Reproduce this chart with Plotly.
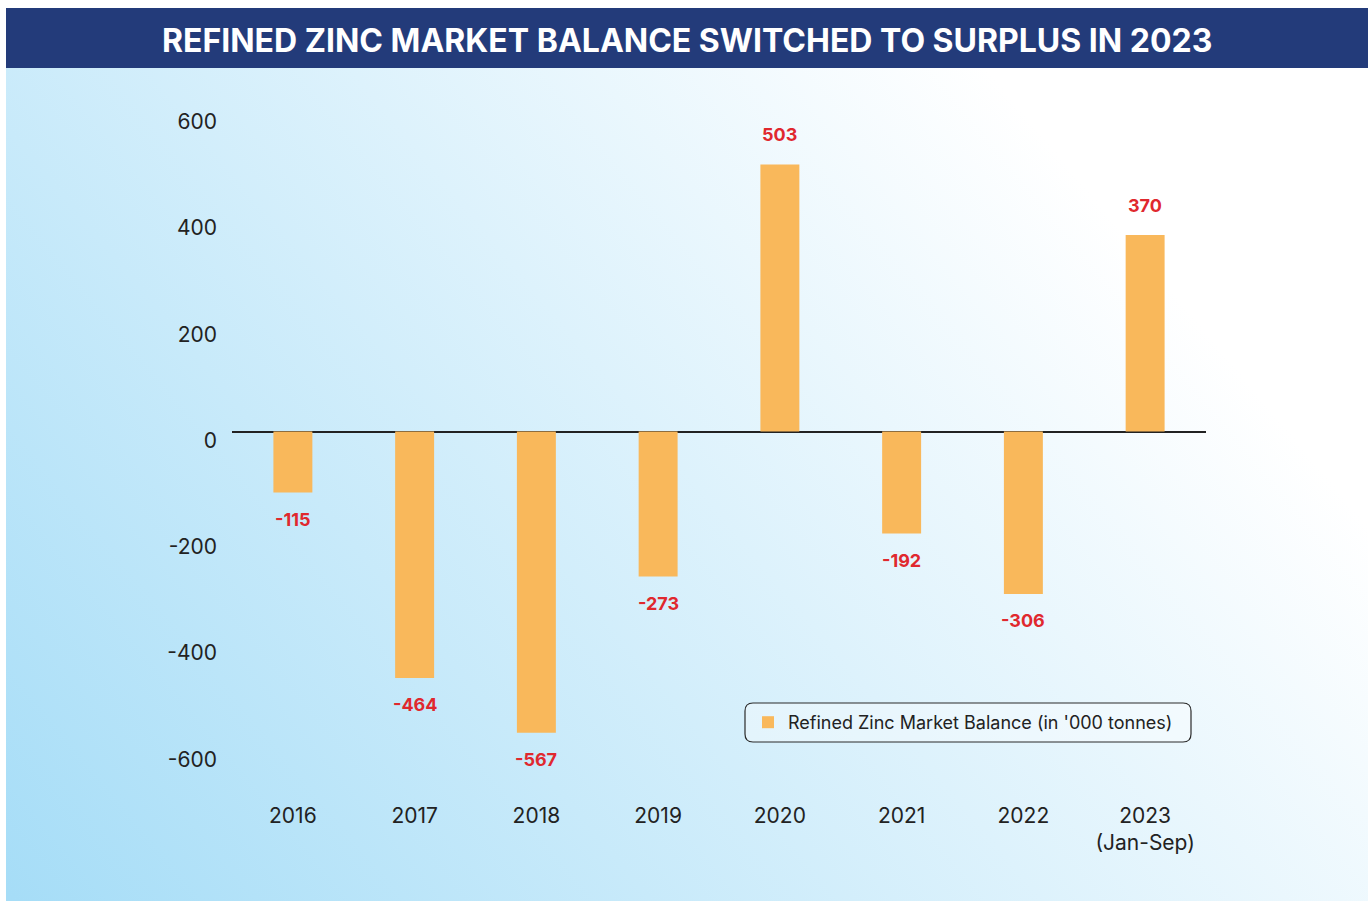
import base64

import plotly.graph_objects as go

years = ["2016", "2017", "2018", "2019", "2020", "2021", "2022", "2023<br>(Jan-Sep)"]
balance = [-115, -464, -567, -273, 503, -192, -306, 370]
y_ticks = [-600, -400, -200, 0, 200, 400, 600]
series_name = "Refined Zinc Market Balance (in '000 tonnes)"
title = "REFINED ZINC MARKET BALANCE SWITCHED TO SURPLUS IN 2023"

W, H = 1370, 901
L, R, T, B = 232, 164, 89, 111
PW, PH = W - L - R, H - T - B


def px(x):
    return (x - L) / PW


def py(y):
    return (H - B - y) / PH


# diagonal wash: blue at bottom-left fading to white towards the top-right
svg = (
    '<svg xmlns="http://www.w3.org/2000/svg" width="1362" height="893" '
    'preserveAspectRatio="none" viewBox="0 0 1362 893">'
    '<defs><linearGradient id="g" gradientUnits="userSpaceOnUse" '
    'x1="0" y1="882" x2="983" y2="63">'
    '<stop offset="0" stop-color="#a6ddf7"/>'
    '<stop offset="1" stop-color="#ffffff"/>'
    '</linearGradient></defs>'
    '<rect width="1362" height="893" fill="url(#g)"/></svg>'
)
bg_src = "data:image/svg+xml;base64," + base64.b64encode(svg.encode()).decode()

fig = go.Figure()
fig.add_trace(go.Bar(
    x=years, y=balance, name=series_name,
    marker=dict(color="#f9b85b", line=dict(width=0)),
    width=0.32, showlegend=True,
))

for i, v in enumerate(balance):
    fig.add_annotation(
        x=i, y=v, text=f"<b>{v}</b>", showarrow=False,
        yanchor="bottom" if v > 0 else "top",
        yshift=17 if v > 0 else -14,
        font=dict(family="Inter", size=18, color="#e0282e"),
    )

fig.add_annotation(
    x=px(687), y=py(40), xref="paper", yref="paper", text=f"<b>{title}</b>",
    showarrow=False, xanchor="center", yanchor="middle",
    font=dict(family="Inter", size=32, color="white"),
)

# rounded legend frame
x0, x1, y0, y1, r = 745, 1191, 703, 742, 8
path = (
    f"M {px(x0 + r)},{py(y0)} L {px(x1 - r)},{py(y0)} "
    f"Q {px(x1)},{py(y0)} {px(x1)},{py(y0 + r)} L {px(x1)},{py(y1 - r)} "
    f"Q {px(x1)},{py(y1)} {px(x1 - r)},{py(y1)} L {px(x0 + r)},{py(y1)} "
    f"Q {px(x0)},{py(y1)} {px(x0)},{py(y1 - r)} L {px(x0)},{py(y0 + r)} "
    f"Q {px(x0)},{py(y0)} {px(x0 + r)},{py(y0)} Z"
)
fig.add_shape(type="path", path=path, xref="paper", yref="paper",
              line=dict(color="#2a2a2a", width=1.2),
              fillcolor="rgba(255,255,255,0.35)", layer="below")

fig.add_shape(type="rect", xref="paper", yref="paper",
              x0=px(6), x1=px(1368), y0=py(68), y1=py(8),
              fillcolor="#233b7a", line=dict(width=0), layer="below")

fig.update_layout(
    width=W, height=H,
    margin=dict(l=L, r=R, t=T, b=B),
    paper_bgcolor="white", plot_bgcolor="rgba(0,0,0,0)",
    font=dict(family="Inter", color="#222222"),
    images=[dict(source=bg_src, xref="paper", yref="paper",
                 x=px(6), y=py(8), sizex=1362 / PW, sizey=893 / PH,
                 xanchor="left", yanchor="top", sizing="stretch", layer="below")],
    legend=dict(
        x=px(963), y=py(722.5), xanchor="center", yanchor="middle",
        bgcolor="rgba(0,0,0,0)", borderwidth=0,
        font=dict(family="Inter", size=18, color="#222222"),
    ),
    xaxis=dict(
        range=[-0.5, 7.5], showgrid=False, showline=False, ticks="",
        tickfont=dict(family="Inter", size=21, color="#222222"),
        ticklabelstandoff=11,
    ),
    yaxis=dict(
        range=[-675, 645], showgrid=False, showline=False, ticks="",
        tickvals=y_ticks, ticktext=[str(t) for t in y_ticks],
        zeroline=True, zerolinecolor="#222222", zerolinewidth=1.5,
        tickfont=dict(family="Inter", size=21, color="#222222"),
        ticklabelstandoff=14, ticklabelshift=9,
    ),
)

fig.write_html("out.html", config={"displayModeBar": False},
               post_script="document.body.style.margin='0';document.body.style.overflow='hidden';")
